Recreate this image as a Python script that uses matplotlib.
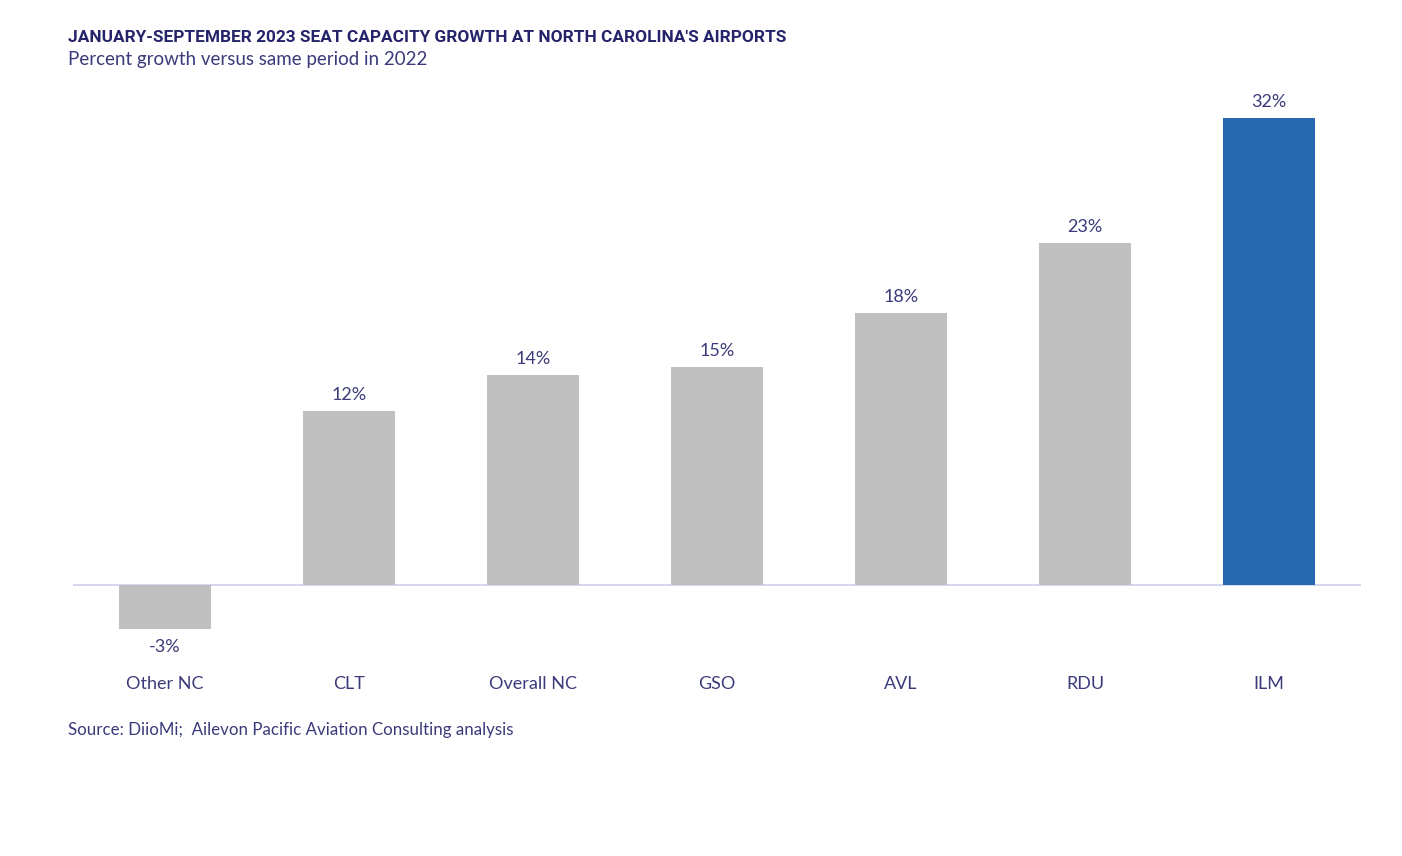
import matplotlib
matplotlib.use("Agg")
import matplotlib.pyplot as plt

airports = ["Other NC", "CLT", "Overall NC", "GSO", "AVL", "RDU", "ILM"]
growth = [-3.0, 11.9, 14.4, 14.9, 18.6, 23.4, 32.0]
labels = ["-3%", "12%", "14%", "15%", "18%", "23%", "32%"]
highlight = "ILM"

navy = "#25246a"
txt = "#3b3a7a"
grey = "#bfbfbf"
blue = "#2769b0"

plt.rcParams['font.family'] = ['Lato', 'DejaVu Sans']

fig = plt.figure(figsize=(14.02, 8.56), dpi=100)
# axes placed in pixel terms: x 73..1361, y 103..658 (from top)
W, H = 1402, 856
ax = fig.add_axes([73 / W, 1 - 658 / H, 1288 / W, 555 / H])

colors = [blue if a == highlight else grey for a in airports]
x = range(len(airports))
ax.bar(x, growth, width=0.5, color=colors, zorder=2)
ax.axhline(0, color="#d2d2ee", lw=1.3, zorder=1)

for i, (v, lab) in enumerate(zip(growth, labels)):
    if v >= 0:
        ax.annotate(lab, (i, v), xytext=(0, 8), textcoords="offset pixels",
                    ha="center", va="bottom", fontsize=13, color=txt)
    else:
        ax.annotate(lab, (i, v), xytext=(0, -10), textcoords="offset pixels",
                    ha="center", va="top", fontsize=13, color=txt)

ax.set_xlim(-0.5, len(airports) - 0.5)
ax.set_ylim(-5, 33)
ax.set_xticks(list(x))
ax.set_xticklabels(airports, fontsize=13, color=txt)
ax.tick_params(axis="x", length=0, pad=13)
ax.set_yticks([])
for s in ax.spines.values():
    s.set_visible(False)

fig.text(68 / W, 1 - 37 / H, "JANUARY-SEPTEMBER 2023 SEAT CAPACITY GROWTH AT NORTH CAROLINA'S AIRPORTS",
         fontsize=12.4, fontweight="bold", color=navy, va="center",
         family=['Roboto', 'DejaVu Sans'])
fig.text(68 / W, 1 - 59 / H, "Percent growth versus same period in 2022",
         fontsize=13.5, color=txt, va="center")
fig.text(68 / W, 1 - 730 / H, "Source: DiioMi;  Ailevon Pacific Aviation Consulting analysis",
         fontsize=12.2, color=txt, va="center")

fig.savefig("out.png", dpi=100)
